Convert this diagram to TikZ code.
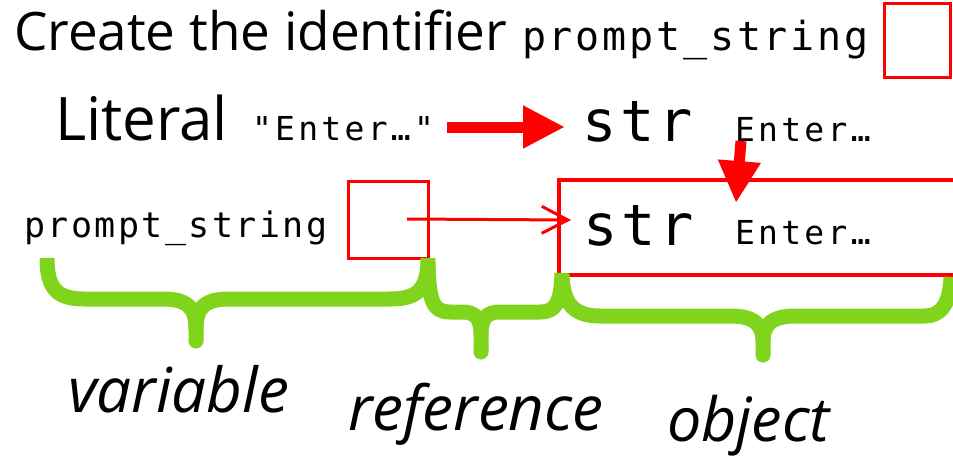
\documentclass[tikz,border=0pt]{standalone}
\usepackage{fontspec}
\setmainfont{Open Sans}
\newfontfamily\codefont[LetterSpace=7]{DejaVu Sans Mono}
\newfontfamily\codewide[LetterSpace=10]{DejaVu Sans Mono}
\usetikzlibrary{arrows.meta}
\definecolor{bracegreen}{RGB}{128,212,28}
\definecolor{boxred}{RGB}{255,0,0}
\tikzset{
  txt/.style={anchor=base west, inner sep=0pt, outer sep=0pt},
  heading/.style={txt, font=\fontsize{#1}{#1}\selectfont},
  code/.style={txt, font=\codefont\fontsize{#1}{#1}\selectfont},
  codew/.style={txt, font=\codewide\fontsize{#1}{#1}\selectfont},
  tag/.style={txt, font=\itshape\fontsize{#1}{#1}\selectfont},
  cell/.style={draw=boxred, line width=3pt, inner sep=0pt},
  bigarrow/.style={draw=boxred, line width=11pt,
    -{Triangle[length=42pt,width=40pt,fill=boxred]}},
  refarrow/.style={draw=boxred, line width=3pt,
    -{Straight Barb[length=26pt,width=27pt,line width=3pt]}},
  bracestroke/.style={draw=bracegreen, line width=15pt, line join=round},
}
\begin{document}
\begin{tikzpicture}[x=1pt,y=-1pt]
\useasboundingbox (0,0) rectangle (953,459);

% first line: the name to be created, with its empty cell
\node[heading=53] (create) at (14,50) {Create the identifier};
\node[code=40] (name1) at (522,50) {prompt\_string};
\node[cell, minimum width=66pt, minimum height=74pt] (cell1) at (917,40) {};

% second line: the literal becomes a str object
\node[heading=60] (literal) at (55,140) {Literal};
\node[codew=33] (lit) at (252,140) {"Enter…"};
\node[code=57] (str1) at (582,141) {str};
\node[codew=33] (val1) at (735,141) {Enter…};
\coordinate (a1) at (447,127);
\coordinate (a2) at (565,127);
\draw[bigarrow] (a1) -- (a2);
\coordinate (d1) at (741,141);
\coordinate (d2) at (736,203);
\draw[bigarrow] (d1) -- (d2);

% third line: the variable, its reference and the object
\node[code=35] (name2) at (24,237) {prompt\_string};
\node[cell, minimum width=80pt, minimum height=77pt] (cell2) at (388,219.5) {};
\draw[boxred, line width=3.5pt] (953,180) -- (559,180) coordinate (objtl)
  -- (559,275) coordinate (objbl) -- (953,275);
\coordinate (objin) at (571,220);
\node[code=57] (str2) at (583,245) {str};
\node[codew=33] (val2) at (735,244) {Enter…};
\coordinate (refstart) at (407,219);
\draw[refarrow] (refstart) -- (objin);

% braces under the three parts
\draw[bracestroke] (47,258) .. controls (47,290) and (58,299) .. (85,299)
  -- (163,299) .. controls (190,299) and (196,310) .. (196,330) -- (196,341);
\draw[bracestroke] (428,258) .. controls (428,290) and (417,299) .. (390,299)
  -- (229,299) .. controls (202,299) and (196,310) .. (196,330);
\fill[bracegreen] (196,341) circle (7.5pt);

\draw[bracestroke] (428,262) .. controls (429,300) and (432,312) .. (450,312)
  -- (462,312) .. controls (477,312) and (481,320) .. (481,335) -- (481,352);
\draw[bracestroke] (562,273) .. controls (561,302) and (556,312) .. (540,312)
  -- (500,312) .. controls (485,312) and (481,320) .. (481,335);
\fill[bracegreen] (481,352) circle (7.5pt);

\draw[bracestroke] (562,275) .. controls (563,305) and (575,316) .. (600,316)
  -- (730,316) .. controls (755,316) and (763,325) .. (763,342) -- (763,355);
\draw[bracestroke] (951,277) .. controls (950,305) and (940,316) .. (925,316)
  -- (796,316) .. controls (771,316) and (763,325) .. (763,342);
\fill[bracegreen] (763,355) circle (7.5pt);

% labels of the three parts
\node[tag=62] (variable) at (68,412) {variable};
\node[tag=62] (reference) at (348,430) {reference};
\node[tag=61] (object) at (667,441) {object};
\end{tikzpicture}
\end{document}
